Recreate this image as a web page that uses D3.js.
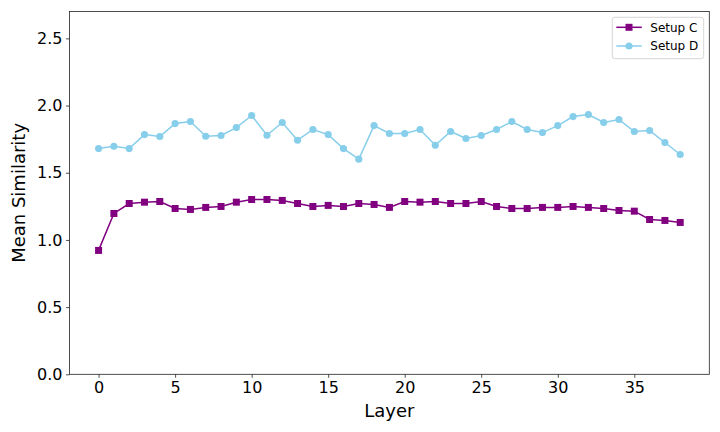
<!DOCTYPE html>
<html>
<head>
<meta charset="utf-8">
<script src="https://cdn.jsdelivr.net/npm/d3@7"></script>
<style>
  body { margin: 0; background: #fff; }
  text { font-family: "DejaVu Sans", sans-serif; fill: #000; }
</style>
</head>
<body>
<script>
// data
var layers = d3.range(0, 39);
var setupC = [0.922, 1.197, 1.271, 1.281, 1.286, 1.234, 1.227, 1.242, 1.249, 1.281,
              1.301, 1.301, 1.294, 1.271, 1.249, 1.257, 1.249, 1.271, 1.264, 1.242,
              1.286, 1.281, 1.286, 1.271, 1.271, 1.286, 1.249, 1.234, 1.234, 1.242,
              1.242, 1.249, 1.242, 1.234, 1.219, 1.214, 1.152, 1.145, 1.130];
var setupD = [1.680, 1.697, 1.680, 1.784, 1.770, 1.866, 1.881, 1.772, 1.777, 1.836,
              1.926, 1.779, 1.874, 1.742, 1.822, 1.784, 1.680, 1.601, 1.851, 1.792,
              1.792, 1.822, 1.705, 1.807, 1.755, 1.777, 1.822, 1.881, 1.822, 1.799,
              1.851, 1.918, 1.933, 1.874, 1.896, 1.807, 1.814, 1.725, 1.636];
var xTicks = [0, 5, 10, 15, 20, 25, 30, 35];
var yTicks = [0.0, 0.5, 1.0, 1.5, 2.0, 2.5];
var seriesNames = ["Setup C", "Setup D"];

// margin
var W = 720, H = 432;
var margin = {top: 11.5, right: 10.7, bottom: 57.7, left: 69.5},
    width = W - margin.left - margin.right,
    height = H - margin.top - margin.bottom;

var x = d3.scaleLinear().domain([-1.9, 39.9]).range([0, width]);
var y = d3.scaleLinear().domain([0, 2.7]).range([height, 0]);

var svg = d3.select("body").append("svg")
    .attr("width", W)
    .attr("height", H);

var g = svg.append("g")
    .attr("transform", "translate(" + margin.left + "," + margin.top + ")");

// axes
var xAxis = g.append("g")
    .attr("transform", "translate(0," + height + ")")
    .call(d3.axisBottom(x).tickValues(xTicks).tickSize(3.5).tickPadding(3.5).tickFormat(d3.format("d")));
var yAxis = g.append("g")
    .call(d3.axisLeft(y).tickValues(yTicks).tickSize(3.5).tickPadding(3.5).tickFormat(d3.format(".1f")));

[xAxis, yAxis].forEach(function(a) {
  a.select(".domain").remove();
  a.selectAll(".tick line").attr("stroke", "#222").attr("stroke-width", 0.8);
  a.selectAll(".tick text").style("font-size", "16px").attr("fill", "#000");
});

// frame
g.append("rect")
    .attr("width", width)
    .attr("height", height)
    .attr("fill", "none")
    .attr("stroke", "#222")
    .attr("stroke-width", 0.8);

// series
var series = [
  {name: seriesNames[0], values: setupC, color: "#800080", marker: "square"},
  {name: seriesNames[1], values: setupD, color: "#87CEEB", marker: "circle"}
];

var line = d3.line()
    .x(function(d, i) { return x(layers[i]); })
    .y(function(d) { return y(d); });

series.forEach(function(s) {
  g.append("path")
      .datum(s.values)
      .attr("fill", "none")
      .attr("stroke", s.color)
      .attr("stroke-width", 1.5)
      .attr("d", line);

  var sym = d3.symbol()
      .type(s.marker == "square" ? d3.symbolSquare : d3.symbolCircle)
      .size(s.marker == "square" ? 49 : 40);

  g.selectAll(".pt-" + s.marker)
      .data(s.values)
    .enter().append("path")
      .attr("class", "pt-" + s.marker)
      .attr("transform", function(d, i) { return "translate(" + x(layers[i]) + "," + y(d) + ")"; })
      .attr("d", sym)
      .attr("fill", s.color);
});

// axis labels
svg.append("text")
    .attr("x", margin.left + width / 2)
    .attr("y", 417)
    .attr("text-anchor", "middle")
    .style("font-size", "18px")
    .text("Layer");

svg.append("text")
    .attr("transform", "translate(25," + (margin.top + height / 2) + ") rotate(-90)")
    .attr("text-anchor", "middle")
    .style("font-size", "18px")
    .text("Mean Similarity");

// legend
var leg = svg.append("g").attr("transform", "translate(612.3,17.3)");
leg.append("rect")
    .attr("width", 91.4)
    .attr("height", 41.4)
    .attr("rx", 2.5)
    .attr("fill", "#fff")
    .attr("fill-opacity", 0.8)
    .attr("stroke", "#ccc")
    .attr("stroke-width", 0.8);

series.forEach(function(s, i) {
  var row = leg.append("g").attr("transform", "translate(0," + (10 + i * 18.7) + ")");
  row.append("line")
      .attr("x1", 4).attr("x2", 29.5)
      .attr("stroke", s.color)
      .attr("stroke-width", 1.5);
  row.append("path")
      .attr("transform", "translate(16.7,0)")
      .attr("d", d3.symbol().type(s.marker == "square" ? d3.symbolSquare : d3.symbolCircle).size(s.marker == "square" ? 49 : 40))
      .attr("fill", s.color);
  row.append("text")
      .attr("x", 38)
      .attr("y", 4.3)
      .style("font-size", "12px")
      .text(s.name);
});
</script>
</body>
</html>
